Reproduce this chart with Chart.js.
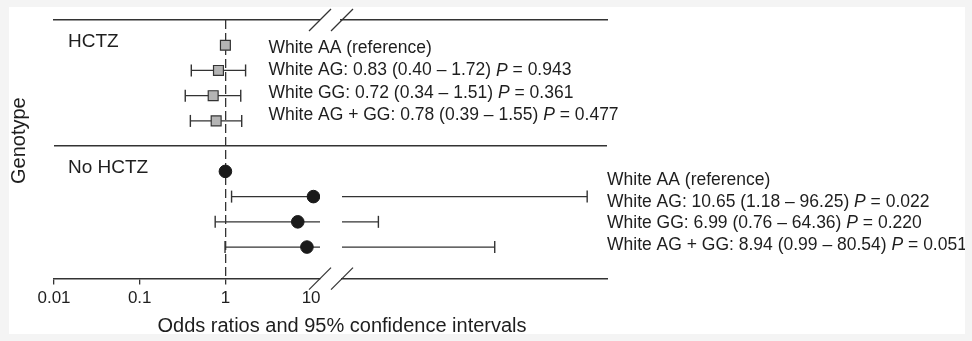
<!DOCTYPE html>
<html>
<head>
<meta charset="utf-8">
<script src="https://cdn.jsdelivr.net/npm/chart.js@4/dist/chart.umd.min.js"></script>
<style>
  html, body { margin: 0; padding: 0; background: #f4f4f4; }
  #panel { position: absolute; left: 9px; top: 7px; width: 956px; height: 327px; background: #ffffff; }
  canvas { display: block; }
</style>
</head>
<body>
<div id="panel"><canvas id="forest" width="956" height="327"></canvas></div>
<script>
// ---- data -------------------------------------------------------------
const groups = ['HCTZ', 'No HCTZ'];
const genotypes = ['White AA', 'White AG', 'White GG', 'White AG + GG'];

const hctzOR   = [1, 0.83, 0.72, 0.78];
const hctzLow  = [null, 0.40, 0.34, 0.39];
const hctzHigh = [null, 1.72, 1.51, 1.55];
const hctzP    = [null, '0.943', '0.361', '0.477'];

const noHctzOR   = [1, 10.65, 6.99, 8.94];
const noHctzLow  = [null, 1.18, 0.76, 0.99];
const noHctzHigh = [null, 96.25, 64.36, 80.54];
const noHctzP    = [null, '0.022', '0.220', '0.051'];

const tickValues = [0.01, 0.1, 1, 10];
const tickLabels = ['0.01', '0.1', '1', '10'];

// ---- axis break: lower segment runs up to ~12.7, upper segment 60-100 --
const lowerAxisMax = 12.7;
const upperAxisMin = 60;
const upperAxisMax = 100;

const INK = '#333333';
const TEXT = '#1e1e1e';
const FONT = '"Liberation Sans", Arial, Helvetica, sans-serif';
Chart.defaults.font.family = FONT;

// each group occupies rows 1-4 / 6-9, row 5 is the separator
function rowOf(g, i) { return g * 5 + i + 1; }

function segment(axisId, xs, y, caps) {
  return {
    xAxisID: axisId, yAxisID: 'y', order: 2, showLine: true,
    data: xs.map(x => ({ x, y })),
    borderColor: INK, borderWidth: 1.3,
    pointStyle: 'line', pointRotation: 90,
    pointRadius: caps.map(c => (c ? 6 : 0)),
    pointBorderColor: INK, pointBorderWidth: 1.4,
    pointBackgroundColor: INK,
    clip: false
  };
}

function intervalSets(lows, highs, g) {
  const out = [];
  lows.forEach((lo, i) => {
    if (lo == null) return;
    const hi = highs[i];
    const y = rowOf(g, i);
    out.push(segment('xl', [lo, Math.min(hi, lowerAxisMax)], y, [true, hi <= lowerAxisMax]));
    if (hi > lowerAxisMax) {
      out.push(segment('xr', [Math.max(lo, upperAxisMin), hi], y, [lo >= upperAxisMin, true]));
    }
  });
  return out;
}

const datasets = [
  ...intervalSets(hctzLow, hctzHigh, 0),
  ...intervalSets(noHctzLow, noHctzHigh, 1),
  {
    xAxisID: 'xl', yAxisID: 'y', order: 0,
    data: hctzOR.map((v, i) => ({ x: v, y: rowOf(0, i) })),
    pointStyle: 'rect', pointRadius: 7,
    pointBackgroundColor: '#b4b4b4', pointBorderColor: INK, pointBorderWidth: 1.2
  },
  {
    xAxisID: 'xl', yAxisID: 'y', order: 0,
    data: noHctzOR.map((v, i) => ({ x: v, y: rowOf(1, i) })),
    pointStyle: 'circle', pointRadius: 6.3,
    pointBackgroundColor: '#1a1a1a', pointBorderColor: '#1a1a1a', pointBorderWidth: 1
  }
];

const hidden = 'rgba(0,0,0,0)';

function plainTop(weight, border) {
  return {
    type: 'linear', position: 'top', stack: 'topRule', stackWeight: weight,
    ticks: { display: false },
    grid: { display: false, drawTicks: false },
    border: { display: border, color: INK, width: 1.5 }
  };
}

// ---- text beside the marks, group names and axis titles ----------------
function statParts(name, or, lo, hi, p) {
  if (lo == null) return [[name + ' (reference)', false]];
  return [
    [name + ': ' + or.toFixed(2) + ' (' + lo.toFixed(2) + ' \u2013 ' + hi.toFixed(2) + ') ', false],
    ['P', true],
    [' = ' + p, false]
  ];
}

function drawParts(ctx, parts, x, y, size) {
  let cx = x;
  parts.forEach(([txt, italic]) => {
    ctx.font = (italic ? 'italic ' : '') + size + 'px ' + FONT;
    ctx.fillText(txt, cx, y);
    cx += ctx.measureText(txt).width;
  });
}

const annotate = {
  id: 'annotate',
  afterDraw(chart) {
    const { ctx, chartArea, scales } = chart;
    const yS = scales.y, xl = scales.xl, xg = scales.xg;
    ctx.save();

    // axis-break slashes on the top and bottom rules
    ctx.strokeStyle = INK;
    ctx.lineWidth = 1.3;
    [chartArea.top, chartArea.bottom].forEach(yy => {
      [xg.left, xg.right].forEach(xx => {
        ctx.beginPath();
        ctx.moveTo(xx - 11, yy + 11);
        ctx.lineTo(xx + 11, yy - 11);
        ctx.stroke();
      });
    });

    ctx.fillStyle = TEXT;
    ctx.textAlign = 'left';
    ctx.textBaseline = 'middle';

    // group names
    ctx.font = '19px ' + FONT;
    groups.forEach((g, gi) => {
      ctx.fillText(g, chartArea.left + 14, yS.getPixelForValue(rowOf(gi, 0)) - 3.5);
    });

    // estimates
    const blocks = [
      { or: hctzOR, lo: hctzLow, hi: hctzHigh, p: hctzP,
        x: xl.getPixelForValue(1) + 43, y0: yS.getPixelForValue(rowOf(0, 0)) + 3, step: 22.4 },
      { or: noHctzOR, lo: noHctzLow, hi: noHctzHigh, p: noHctzP,
        x: chartArea.right, y0: yS.getPixelForValue(rowOf(1, 0)) + 8.5, step: 21.8 }
    ];
    blocks.forEach(b => {
      genotypes.forEach((name, i) => {
        drawParts(ctx, statParts(name, b.or[i], b.lo[i], b.hi[i], b.p[i]), b.x, b.y0 + i * b.step, 17.5);
      });
    });

    // x-axis title
    ctx.font = '20px ' + FONT;
    ctx.textAlign = 'center';
    ctx.textBaseline = 'alphabetic';
    ctx.fillText('Odds ratios and 95% confidence intervals', xg.right, 325);

    // y-axis title
    ctx.translate(16, yS.getPixelForValue(5) - 5.5);
    ctx.rotate(-Math.PI / 2);
    ctx.font = '20px ' + FONT;
    ctx.fillText('Genotype', 0, 0);

    ctx.restore();
  }
};

new Chart(document.getElementById('forest'), {
  type: 'scatter',
  data: { datasets },
  options: {
    responsive: false,
    animation: false,
    devicePixelRatio: 1,
    events: [],
    layout: { padding: { left: 45, top: 13, right: 358, bottom: 21 } },
    plugins: { legend: { display: false }, tooltip: { enabled: false } },
    scales: {
      y: {
        type: 'linear', reverse: true, min: 0, max: 10.25,
        afterBuildTicks: s => { s.ticks = [{ value: 5 }]; },
        ticks: { display: false },
        grid: { color: INK, lineWidth: 1.5, drawTicks: false },
        border: { display: false }
      },
      xl: {
        type: 'logarithmic', position: 'bottom', stack: 'bottomRule', stackWeight: 266,
        min: 0.01, max: lowerAxisMax, bounds: 'data',
        afterBuildTicks: s => { s.ticks = tickValues.map(v => ({ value: v })); },
        ticks: {
          autoSkip: false, maxRotation: 0, padding: 4, color: TEXT,
          font: { size: 17 },
          callback: (v, i) => tickLabels[i]
        },
        grid: {
          drawOnChartArea: true,
          color: c => (c.tick && c.tick.value === 1 ? INK : hidden),
          lineWidth: 1.3,
          tickLength: 6, tickWidth: 1.3,
          tickColor: c => (c.tick && c.tick.value === 10 ? hidden : INK)
        },
        border: { display: true, color: INK, width: 1.5, dash: [9, 4] }
      },
      xg: {
        type: 'linear', position: 'bottom', stack: 'bottomRule', stackWeight: 22,
        ticks: { display: false },
        grid: { display: false, drawTicks: false },
        border: { display: false }
      },
      xr: {
        type: 'logarithmic', position: 'bottom', stack: 'bottomRule', stackWeight: 265,
        min: upperAxisMin, max: upperAxisMax, bounds: 'data',
        ticks: { display: false },
        grid: { display: false, drawTicks: false },
        border: { display: true, color: INK, width: 1.5 }
      },
      xtl: plainTop(266, true),
      xtg: plainTop(22, false),
      xtr: plainTop(265, true)
    }
  },
  plugins: [annotate]
});
</script>
</body>
</html>
